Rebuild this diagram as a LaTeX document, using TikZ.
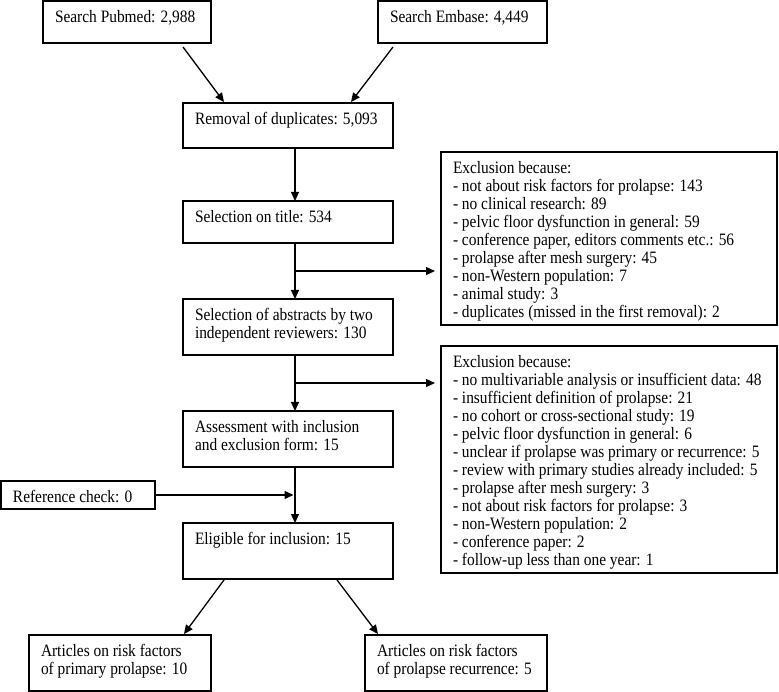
\documentclass[tikz,border=0pt]{standalone}
\usepackage{fontspec}
\setmainfont{Liberation Serif}[FakeStretch=0.885]
\usetikzlibrary{arrows.meta}
\newcommand\bxt[3]{\parbox[t][#2][t]{#1}{\raggedright\leftskip=12pt\rule{0pt}{21.5pt}\ignorespaces#3}}
\tikzset{
  bx/.style={draw, line width=1.1pt, anchor=north west, inner sep=0pt, outer sep=0pt,
    font=\fontsize{17.4}{18}\selectfont},
  arr/.style={line width=1.3pt, -{Triangle[length=9pt,width=8pt]}},
}
\begin{document}
\begin{tikzpicture}[x=1pt,y=-1pt]
\useasboundingbox (0,0) rectangle (779,692);
\node[bx] (pub) at (43,1) {\bxt{168pt}{42pt}{Search Pubmed: 2,988}};
\node[bx] (emb) at (378,1) {\bxt{169pt}{42pt}{Search Embase: 4,449}};
\node[bx] (rem) at (183,103) {\bxt{210pt}{45pt}{Removal of duplicates: 5,093}};
\node[bx] (tit) at (183,201) {\bxt{210pt}{42pt}{Selection on title: 534}};
\node[bx] (abs) at (183,299) {\bxt{210pt}{56pt}{Selection of abstracts by two\\independent reviewers: 130}};
\node[bx] (ass) at (183,411) {\bxt{210pt}{56pt}{Assessment with inclusion\\and exclusion form: 15}};
\node[bx] (ref) at (1,481) {\bxt{154pt}{28pt}{Reference check: 0}};
\node[bx] (eli) at (183,523) {\bxt{210pt}{56pt}{Eligible for inclusion: 15}};
\node[bx] (ex1) at (441,152) {\bxt{336pt}{173pt}{Exclusion because:\\
- not about risk factors for prolapse: 143\\
- no clinical research: 89\\
- pelvic floor dysfunction in general: 59\\
- conference paper, editors comments etc.: 56\\
- prolapse after mesh surgery: 45\\
- non-Western population: 7\\
- animal study: 3\\
- duplicates (missed in the first removal): 2}};
\node[bx] (ex2) at (441,346) {\bxt{336pt}{227pt}{Exclusion because:\\
- no multivariable analysis or insufficient data: 48\\
- insufficient definition of prolapse: 21\\
- no cohort or cross-sectional study: 19\\
- pelvic floor dysfunction in general: 6\\
- unclear if prolapse was primary or recurrence: 5\\
- review with primary studies already included: 5\\
- prolapse after mesh surgery: 3\\
- not about risk factors for prolapse: 3\\
- non-Western population: 2\\
- conference paper: 2\\
- follow-up less than one year: 1}};
\node[bx] (art1) at (29,635) {\bxt{182pt}{56pt}{Articles on risk factors\\of primary prolapse: 10}};
\node[bx] (art2) at (365,635) {\bxt{182pt}{56pt}{Articles on risk factors\\of prolapse recurrence: 5}};
\coordinate (b1) at (295,271);
\coordinate (b2) at (295,383);
\coordinate (m) at (295,0);
\draw[arr] ([xshift=-28pt,yshift=-4pt]pub.south east) -- ([xshift=41pt,yshift=1pt]rem.north west);
\draw[arr] ([xshift=15pt,yshift=-4pt]emb.south west) -- ([xshift=-42pt,yshift=1pt]rem.north east);
\draw[arr] ([xshift=112pt]rem.south west) -- ([xshift=112pt]tit.north west);
\draw[arr] ([xshift=112pt]tit.south west) -- ([xshift=112pt]abs.north west);
\draw[arr] ([xshift=112pt]abs.south west) -- ([xshift=112pt]ass.north west);
\draw[arr] ([xshift=112pt]ass.south west) -- ([xshift=112pt]eli.north west);
\draw[arr, shorten >=6pt] (b1) -- (b1 -| ex1.west);
\draw[arr, shorten >=6pt] (b2) -- (b2 -| ex2.west);
\draw[arr, shorten >=1.5pt] (ref.east) -- (ref.east -| m);
\draw[arr] ([xshift=41pt,yshift=-1pt]eli.south west) -- ([xshift=-27pt,yshift=1pt]art1.north east);
\draw[arr] ([xshift=-56pt,yshift=-1pt]eli.south east) -- ([xshift=13pt,yshift=1pt]art2.north west);
\end{tikzpicture}
\end{document}
